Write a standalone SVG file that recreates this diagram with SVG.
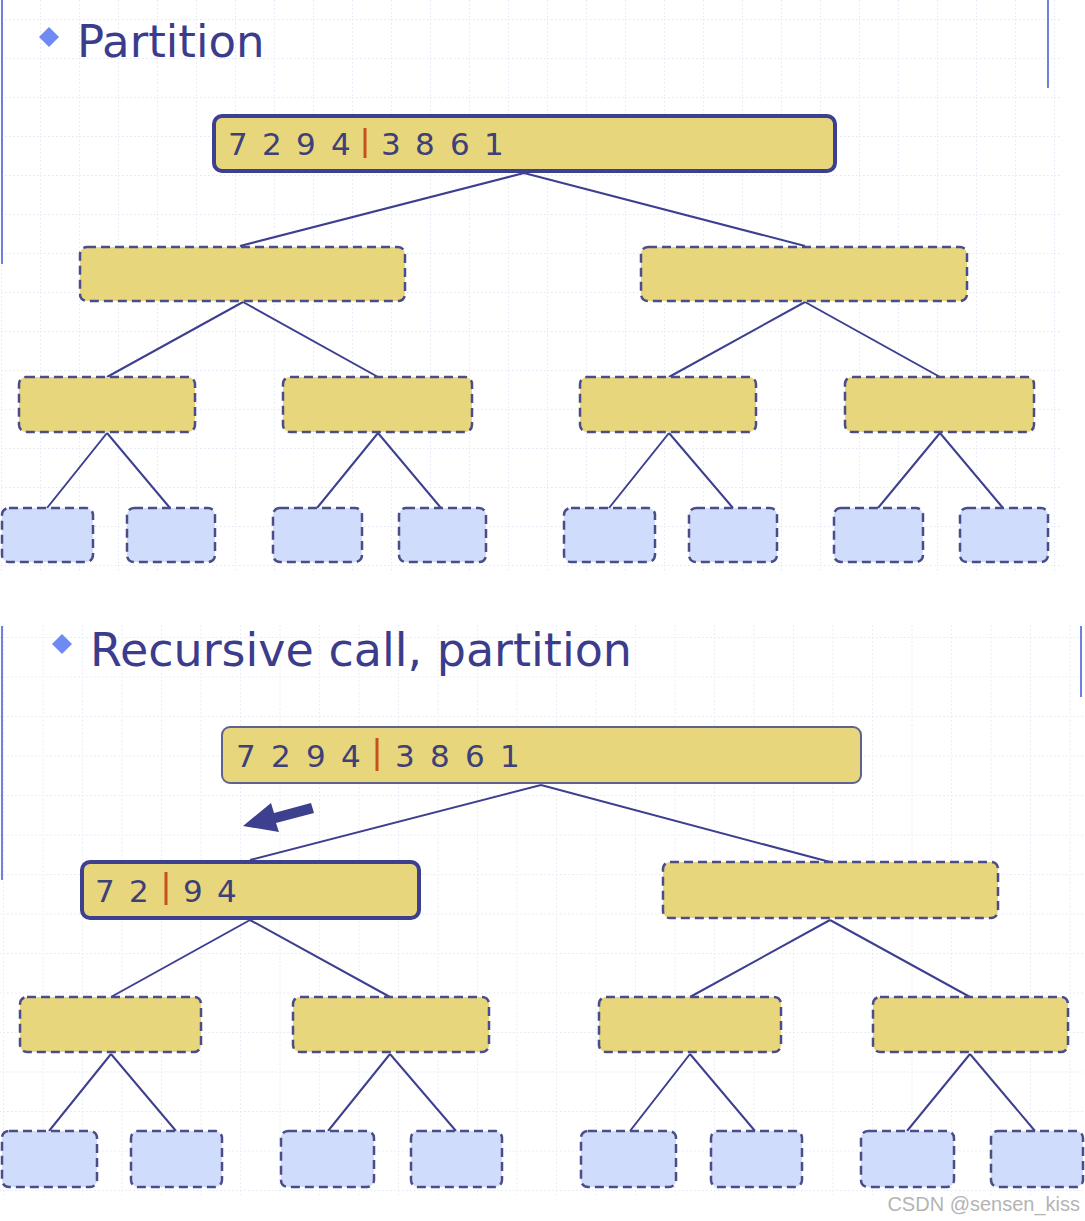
<svg xmlns="http://www.w3.org/2000/svg" width="1085" height="1221" viewBox="0 0 1085 1221">
<style>
.title{font-family:"DejaVu Sans","Liberation Sans",sans-serif;fill:#3b3c8c}
.num{font-family:"DejaVu Sans","Liberation Sans",sans-serif;font-size:31px;fill:#3e4078}
.bar{stroke:#c8501e;stroke-width:3}
.solid{fill:#e8d67c;stroke:#3d3f8f;stroke-width:4}
.thin{fill:#e8d67c;stroke:#5f6190;stroke-width:2}
.dash{fill:#e8d67c;stroke:#4a4d88;stroke-width:2.5;stroke-dasharray:9 5}
.leaf{fill:#cfdcfb;stroke:#4a4d88;stroke-width:2.5;stroke-dasharray:9 5}
.edge{stroke:#3d3f8f;stroke-width:2;fill:none}
.rule{stroke:#7080e0;stroke-width:2}
.diamond{fill:#6f8af2}
</style>
<defs>
<pattern id="gridA" width="39" height="39" x="1" y="19" patternUnits="userSpaceOnUse">
<path d="M0 0.5H39M0.5 0V39" stroke="#e0e6f4" stroke-width="1" stroke-dasharray="1.5 2.5" fill="none"/>
</pattern>
<pattern id="gridB" width="39.5" height="39.5" x="3" y="5" patternUnits="userSpaceOnUse">
<path d="M0 0.5H39.5M0.5 0V39.5" stroke="#e0e6f4" stroke-width="1" stroke-dasharray="1.5 2.5" fill="none"/>
</pattern>
</defs>
<rect width="1085" height="1221" fill="#ffffff"/>
<rect x="0" y="0" width="1060" height="572" fill="url(#gridA)"/>
<rect x="0" y="625" width="1085" height="570" fill="url(#gridB)"/>

<!-- section rules -->
<line class="rule" x1="2" y1="0" x2="2" y2="264"/>
<line class="rule" x1="1048" y1="0" x2="1048" y2="88"/>
<line class="rule" x1="2" y1="626" x2="2" y2="880"/>
<line class="rule" x1="1081" y1="626" x2="1081" y2="697"/>

<!-- titles -->
<g id="title1">
<polygon class="diamond" points="49,27 59,37 49,47 39,37"/>
<text class="title" x="77" y="57" font-size="45">Partition</text>
</g>
<g id="title2">
<polygon class="diamond" points="62,634 72,644 62,654 52,644"/>
<text class="title" x="90" y="666" font-size="46">Recursive call, partition</text>
</g>

<!-- connectors -->
<g id="connectors">
<path class="edge" d="M524,173L240,246M524,173L805,246"/>
<path class="edge" d="M243,302L107,377M243,302L378,377M805,302L669,377M805,302L940,377"/>
<path class="edge" d="M107,433L47,508M107,433L170,508M378,433L317,508M378,433L441,508M669,433L609,508M669,433L733,508M940,433L878,508M940,433L1003,508"/>
<path class="edge" d="M541,785L250,860M541,785L830,862"/>
<path class="edge" d="M250,920L111,997M250,920L390,997M830,920L690,997M830,920L970,997"/>
<path class="edge" d="M111,1054L49,1131M111,1054L176,1131M390,1054L328,1131M390,1054L456,1131M690,1054L630,1131M690,1054L755,1131M970,1054L907,1131M970,1054L1035,1131"/>
<polygon fill="#3d3f8f" points="243,826 271,803 274,813 311,803 314,813 276,823 279,832"/>
</g>

<!-- top tree -->
<g id="p-root">
<rect class="solid" x="214" y="116" width="621" height="55" rx="8"/>
<text class="num" y="155"><tspan x="228">7</tspan><tspan x="262">2</tspan><tspan x="296">9</tspan><tspan x="331">4</tspan><tspan x="381">3</tspan><tspan x="415">8</tspan><tspan x="450">6</tspan><tspan x="484">1</tspan></text>
<line class="bar" x1="365" y1="128" x2="365" y2="158"/>
</g>
<g id="p-l"><rect class="dash" x="80" y="247" width="325" height="54" rx="7"/></g>
<g id="p-r"><rect class="dash" x="641" y="247" width="326" height="54" rx="7"/></g>
<g id="p-ll"><rect class="dash" x="19" y="377" width="176" height="55" rx="7"/></g>
<g id="p-lr"><rect class="dash" x="283" y="377" width="189" height="55" rx="7"/></g>
<g id="p-rl"><rect class="dash" x="580" y="377" width="176" height="55" rx="7"/></g>
<g id="p-rr"><rect class="dash" x="845" y="377" width="189" height="55" rx="7"/></g>
<g id="p-leaf1"><rect class="leaf" x="2" y="508" width="91" height="54" rx="7"/></g>
<g id="p-leaf2"><rect class="leaf" x="127" y="508" width="88" height="54" rx="7"/></g>
<g id="p-leaf3"><rect class="leaf" x="273" y="508" width="89" height="54" rx="7"/></g>
<g id="p-leaf4"><rect class="leaf" x="399" y="508" width="87" height="54" rx="7"/></g>
<g id="p-leaf5"><rect class="leaf" x="564" y="508" width="91" height="54" rx="7"/></g>
<g id="p-leaf6"><rect class="leaf" x="689" y="508" width="88" height="54" rx="7"/></g>
<g id="p-leaf7"><rect class="leaf" x="834" y="508" width="89" height="54" rx="7"/></g>
<g id="p-leaf8"><rect class="leaf" x="960" y="508" width="88" height="54" rx="7"/></g>

<!-- bottom tree -->
<g id="r-root">
<rect class="thin" x="222" y="727" width="639" height="56" rx="8"/>
<text class="num" y="767"><tspan x="236">7</tspan><tspan x="271">2</tspan><tspan x="306">9</tspan><tspan x="341">4</tspan><tspan x="395">3</tspan><tspan x="430">8</tspan><tspan x="465">6</tspan><tspan x="500">1</tspan></text>
<line class="bar" x1="377" y1="738" x2="377" y2="771"/>
</g>
<g id="r-l">
<rect class="solid" x="82" y="862" width="337" height="56" rx="8"/>
<text class="num" y="902"><tspan x="95">7</tspan><tspan x="129">2</tspan><tspan x="183">9</tspan><tspan x="217">4</tspan></text>
<line class="bar" x1="166" y1="872" x2="166" y2="905"/>
</g>
<g id="r-r"><rect class="dash" x="663" y="862" width="335" height="56" rx="7"/></g>
<g id="r-ll"><rect class="dash" x="20" y="997" width="181" height="55" rx="7"/></g>
<g id="r-lr"><rect class="dash" x="293" y="997" width="196" height="55" rx="7"/></g>
<g id="r-rl"><rect class="dash" x="599" y="997" width="182" height="55" rx="7"/></g>
<g id="r-rr"><rect class="dash" x="873" y="997" width="195" height="55" rx="7"/></g>
<g id="r-leaf1"><rect class="leaf" x="2" y="1131" width="95" height="56" rx="7"/></g>
<g id="r-leaf2"><rect class="leaf" x="131" y="1131" width="91" height="56" rx="7"/></g>
<g id="r-leaf3"><rect class="leaf" x="281" y="1131" width="93" height="56" rx="7"/></g>
<g id="r-leaf4"><rect class="leaf" x="411" y="1131" width="91" height="56" rx="7"/></g>
<g id="r-leaf5"><rect class="leaf" x="581" y="1131" width="95" height="56" rx="7"/></g>
<g id="r-leaf6"><rect class="leaf" x="711" y="1131" width="91" height="56" rx="7"/></g>
<g id="r-leaf7"><rect class="leaf" x="861" y="1131" width="93" height="56" rx="7"/></g>
<g id="r-leaf8"><rect class="leaf" x="991" y="1131" width="92" height="56" rx="7"/></g>

<text x="1080" y="1211" text-anchor="end" font-family="Liberation Sans, Arial, sans-serif" font-size="20" fill="#b4b4b4">CSDN @sensen_kiss</text>
</svg>
